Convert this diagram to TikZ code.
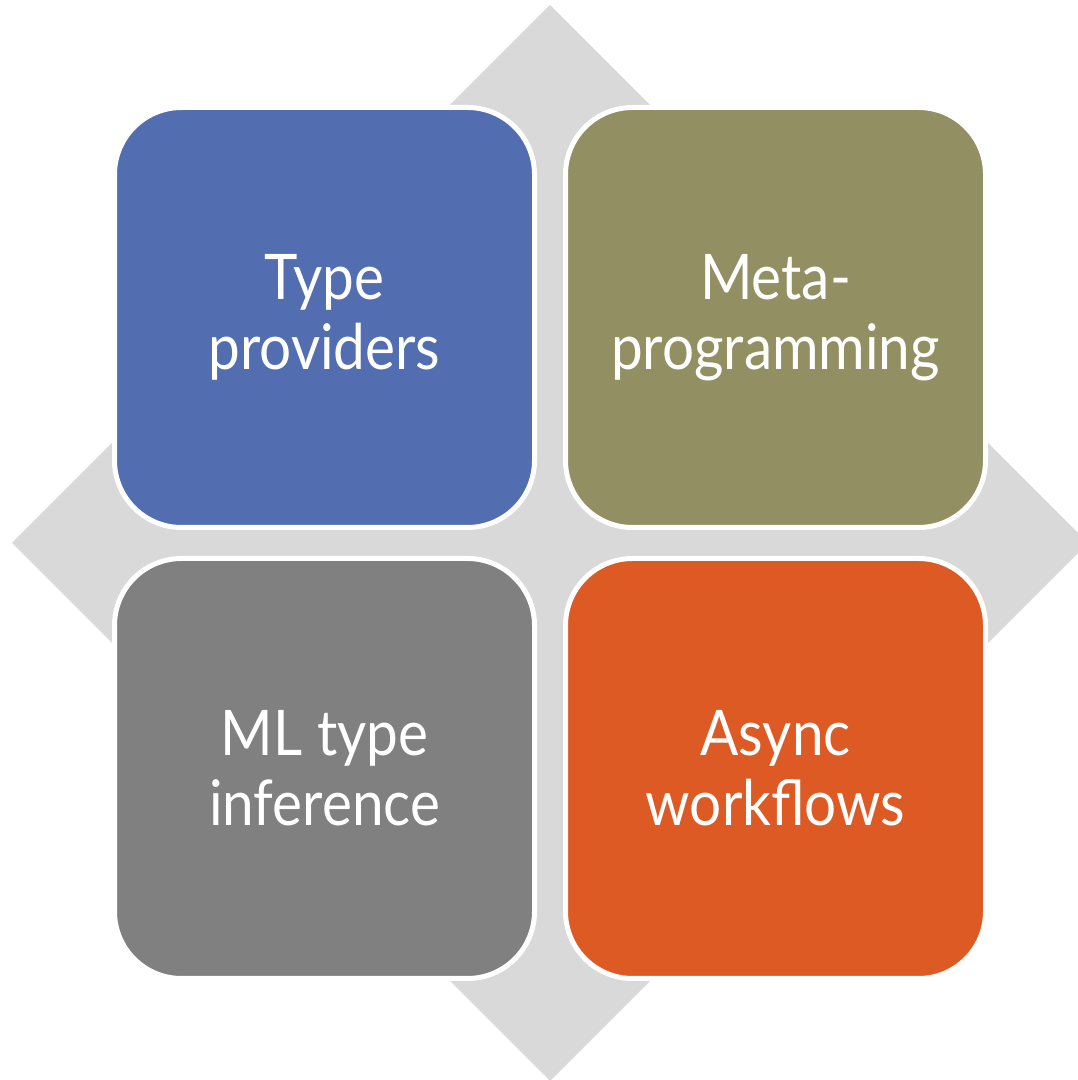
\documentclass[tikz,border=0pt]{standalone}
\usepackage{fontspec}
\setmainfont{Lato}[FakeStretch=0.9]
\usetikzlibrary{positioning, calc}

\definecolor{tpblue}{RGB}{82,109,176}
\definecolor{metaolive}{RGB}{146,143,98}
\definecolor{mlgray}{RGB}{128,128,128}
\definecolor{asyncorange}{RGB}{221,90,36}
\definecolor{backgray}{RGB}{217,217,217}

\begin{document}
\begin{tikzpicture}[
    node distance=0.26cm,
    tile/.style={draw=white, line width=0.05cm, rectangle, rounded corners=0.67cm,
        minimum width=4.2cm, minimum height=4.2cm, align=center, text=white,
        font=\fontsize{17.9}{19.9}\selectfont}
]

    % Page frame
    \useasboundingbox (0,0) rectangle (10.78,10.80);
    \clip (0,0) rectangle (10.78,10.80);

    % Diamond behind the tiles
    \coordinate (mid) at (5.50,5.37);
    \fill[backgray] ($(mid)+(0,5.38)$) -- ($(mid)+(-5.38,0)$)
        -- ($(mid)+(0,-5.38)$) -- ($(mid)+(5.38,0)$) -- cycle;

    % Tiles
    \node[tile, fill=tpblue] (types) at (3.245,7.625) {Type\\providers};
    \node[tile, fill=metaolive, right=of types] (meta) {Meta-\\programming};
    \node[tile, fill=mlgray, below=of types] (infer) {ML type\\inference};
    \node[tile, fill=asyncorange, right=of infer] (async) {Async\\workflows};

\end{tikzpicture}
\end{document}
